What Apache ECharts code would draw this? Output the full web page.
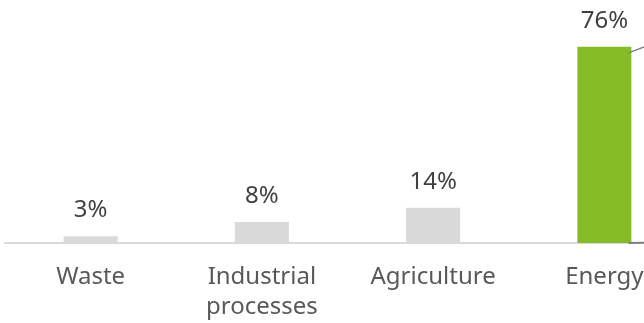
<!DOCTYPE html>
<html><head><meta charset="utf-8">
<script src="https://cdn.jsdelivr.net/npm/echarts@6/dist/echarts.min.js"></script>
<style>html,body{margin:0;padding:0;background:#fff}#c{width:644px;height:323px}</style>
</head><body><div id="c"></div>
<script>
var categories = ['Waste', 'Industrial\nprocesses', 'Agriculture', 'Energy'];
var values = [2.6, 8.1, 13.6, 75.8];
var colors = ['#D9D9D9', '#D9D9D9', '#D9D9D9', '#86BC25'];

var chart = echarts.init(document.getElementById('c'), null, {renderer: 'canvas'});
var FONT = 'Noto Sans';
chart.setOption({
  animation: false,
  grid: {left: 5, width: 685, top: 36, bottom: 80, containLabel: false, outerBoundsMode: 'none'},
  xAxis: {
    type: 'category', data: categories,
    axisLine: {lineStyle: {color: '#D9D9D9', width: 2}},
    axisTick: {show: false},
    axisLabel: {color: '#595959', fontFamily: FONT, fontSize: 24, margin: 19, lineHeight: 30, interval: 0}
  },
  yAxis: {type: 'value', min: 0, max: 80, show: false, splitLine: {show: false}},
  series: [{
    type: 'bar', barWidth: 54,
    data: values.map(function (v, i) { return {value: v, itemStyle: {color: colors[i]}}; }),
    label: {show: true, position: 'top', distance: 14, color: '#404040', fontFamily: FONT, fontSize: 24,
      formatter: function (p) { return Math.round(p.value) + '%'; }}
  }]
});

// bar-of-pie style connector lines leaving the Energy bar
var last = values.length - 1;
var topPt = chart.convertToPixel({seriesIndex: 0}, [last, values[last]]);
var basePt = chart.convertToPixel({seriesIndex: 0}, [last, 0]);
var rightX = topPt[0] + 27;
chart.setOption({
  graphic: [
    {type: 'line', shape: {x1: rightX - 3, y1: topPt[1] + 6, x2: rightX + 50, y2: topPt[1] + 6 - 53 * 0.375},
      style: {stroke: '#7F7F7F', lineWidth: 1.5}, z: 10},
    {type: 'line', shape: {x1: rightX - 3, y1: basePt[1], x2: rightX + 50, y2: basePt[1] - 1},
      style: {stroke: '#7F7F7F', lineWidth: 2}, z: 10}
  ]
});
</script></body></html>
